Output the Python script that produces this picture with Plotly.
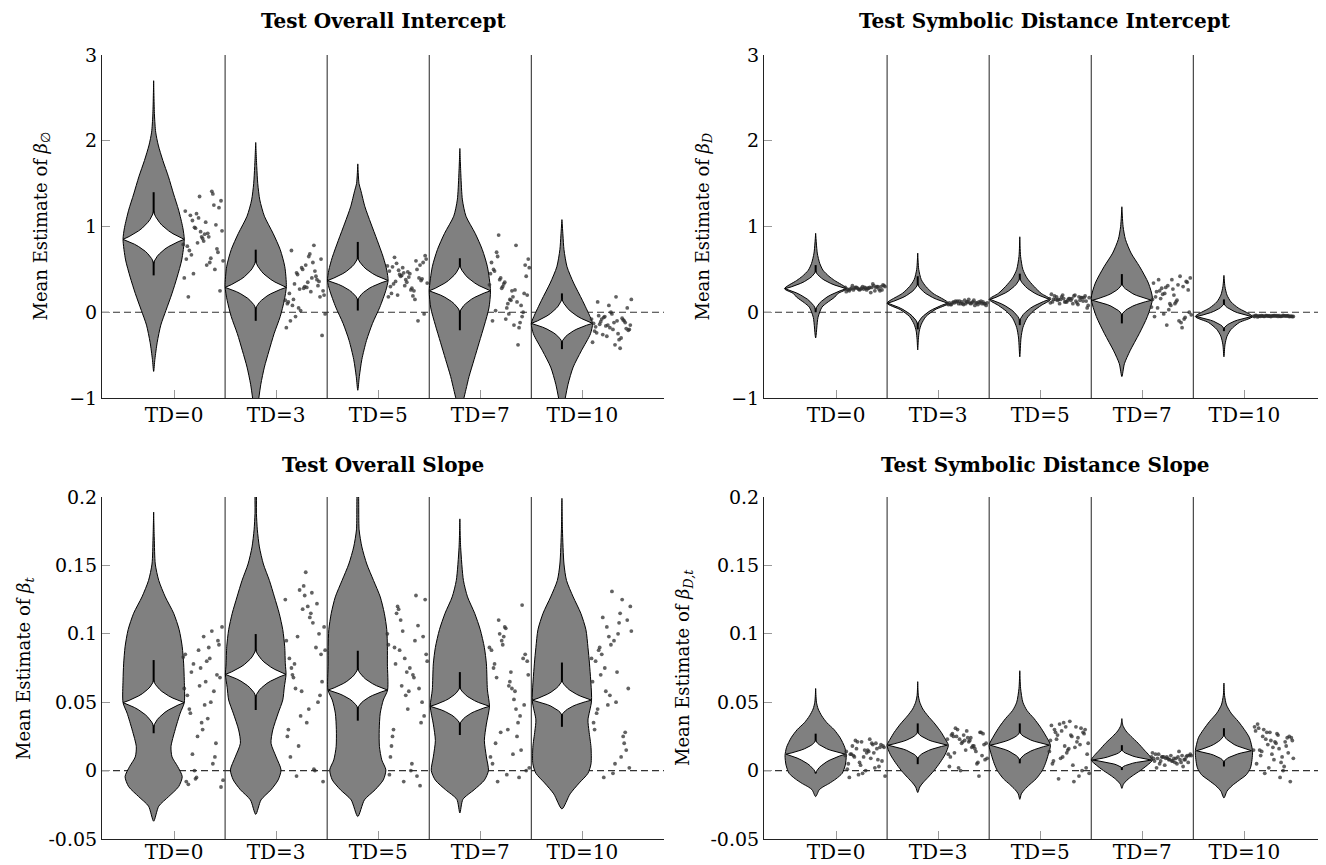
import plotly.graph_objects as go

# ---------------- data ----------------
CATS = ["TD=0", "TD=3", "TD=5", "TD=7", "TD=10"]
TITLES = ["Test Overall Intercept", "Test Symbolic Distance Intercept",
          "Test Overall Slope", "Test Symbolic Distance Slope"]
YTITLES = ["Mean Estimate of <i>β</i><sub>∅</sub>", "Mean Estimate of <i>β<sub>D</sub></i>",
           "Mean Estimate of <i>β<sub>t</sub></i>", "Mean Estimate of <i>β<sub>D,t</sub></i>"]
TOP_TICKS = [-1, 0, 1, 2, 3]
TOP_TICKTEXT = ["−1", "0", "1", "2", "3"]
BOT_TICKS = [-0.05, 0, 0.05, 0.1, 0.15, 0.2]
BOT_TICKTEXT = ["-0.05", "0", "0.05", "0.1", "0.15", "0.2"]

# normalised shape of the white inner densities (fraction of distance to tip -> fraction of width)
INNER_T = [0, .1, .2, .3, .4, .5, .6, .7, .8, .9, 1]
INNER_F = [1, .80, .63, .49, .37, .27, .19, .12, .065, .025, 0]

# jitter offsets of the dots (category units)
JIT = [0.31, 0.12, 0.44, 0.27, 0.19, 0.38, 0.47, 0.15, 0.22, 0.35, 0.41, 0.10, 0.29, 0.46, 0.17,
       0.33, 0.24, 0.40, 0.13, 0.37, 0.21, 0.45, 0.28, 0.11, 0.36, 0.18, 0.43, 0.26, 0.14, 0.39,
       0.23, 0.32, 0.16, 0.42, 0.20, 0.34, 0.25, 0.48, 0.30, 0.09]

# ---- Top-left: Test Overall Intercept ----
TL_OUT_Y = [
    [2.70, 2.30, 2.10, 1.95, 1.77, 1.58, 1.38, 1.19, 0.99, 0.85, 0.61, 0.41, 0.22, 0.02, -0.15, -0.35, -0.55, -0.69],
    [1.98, 1.70, 1.50, 1.31, 1.12, 0.92, 0.73, 0.53, 0.30, 0.14, -0.05, -0.25, -0.45, -0.64, -0.84, -1.05],
    [1.73, 1.50, 1.42, 1.23, 1.04, 0.84, 0.64, 0.49, 0.37, 0.255, 0.06, -0.13, -0.33, -0.55, -0.75, -0.91],
    [1.91, 1.60, 1.31, 1.12, 0.92, 0.73, 0.53, 0.25, 0.05, -0.15, -0.35, -0.55, -0.75, -0.90, -1.05],
    [1.08, 0.90, 0.73, 0.53, 0.34, 0.14, -0.05, -0.13, -0.25, -0.45, -0.64, -0.84, -1.05],
]
TL_OUT_W = [
    [0, 0.008, 0.02, 0.045, 0.09, 0.145, 0.195, 0.245, 0.285, 0.30, 0.275, 0.23, 0.18, 0.12, 0.07, 0.035, 0.012, 0],
    [0, 0.01, 0.02, 0.04, 0.085, 0.17, 0.24, 0.285, 0.30, 0.28, 0.24, 0.18, 0.13, 0.085, 0.05, 0.025],
    [0, 0.012, 0.03, 0.07, 0.127, 0.19, 0.25, 0.284, 0.297, 0.275, 0.216, 0.144, 0.085, 0.04, 0.015, 0],
    [0, 0.01, 0.025, 0.06, 0.15, 0.22, 0.27, 0.30, 0.285, 0.24, 0.19, 0.14, 0.09, 0.06, 0.03],
    [0, 0.01, 0.02, 0.05, 0.115, 0.20, 0.275, 0.30, 0.28, 0.19, 0.11, 0.06, 0.025],
]
TL_INNER = [(0.85, 0.30, 1.18, 0.57), (0.29, 0.30, 0.60, 0.04), (0.37, 0.297, 0.64, 0.14),
            (0.25, 0.30, 0.55, 0.00), (-0.13, 0.30, 0.16, -0.35)]
TL_WHISK = [(0.43, 1.40), (-0.10, 0.73), (0.02, 0.82), (-0.21, 0.63), (-0.43, 0.22)]
TL_PTS = [
    [1.05, 0.62, 1.22, 0.88, 0.45, 1.38, 0.95, 0.72, 1.15, 0.58, 1.02, 0.40, 0.83, 1.30, 0.67, 0.92, 1.10, 0.50, 0.77, 1.41,
     0.98, 0.25, 0.86, 1.18, 0.63, 1.07, 0.70, 0.94, 0.18, 1.25, 0.81, 0.55, 1.13, 0.74, 0.99, 0.88, 1.35, 0.60, 0.91, 0.79],
    [0.35, 0.12, 0.62, 0.28, -0.05, 0.48, 0.20, 0.72, 0.05, 0.40, 0.31, -0.18, 0.55, 0.25, 0.15, 0.68, 0.02, 0.38, 0.22, 0.78,
     0.44, -0.27, 0.30, 0.10, 0.58, 0.33, 0.18, 0.50, -0.10, 0.42, 0.27, 0.65, 0.08, 0.36, 0.46, 0.24, 0.52, -0.02, 0.29, 0.14],
    [0.45, 0.30, 0.58, 0.38, 0.20, 0.50, 0.62, 0.33, 0.42, 0.25, 0.55, 0.18, 0.47, 0.66, 0.36, 0.28, 0.52, 0.40, 0.22, 0.60,
     0.44, -0.02, 0.35, 0.48, 0.15, 0.57, 0.39, 0.31, 0.53, -0.10, 0.43, 0.26, 0.64, 0.37, 0.49, 0.19, 0.46, 0.34, 0.41, 0.54],
    [0.25, -0.10, 0.55, 0.10, 0.38, -0.18, 0.62, 0.02, 0.30, 0.78, -0.05, 0.45, 0.15, 0.20, 0.65, -0.15, 0.35, 0.08, 0.50, -0.38,
     0.28, 0.42, -0.02, 0.58, 0.12, 0.90, 0.22, 0.05, 0.48, -0.12, 0.33, 0.18, 0.70, 0.00, 0.40, 0.26, -0.08, 0.52, 0.14, 0.32],
    [-0.12, -0.22, 0.05, -0.18, -0.08, -0.30, -0.15, 0.12, -0.05, -0.25, -0.10, -0.35, -0.02, -0.20, -0.14, 0.18, -0.28, -0.09,
     -0.17, -0.42, -0.06, -0.21, 0.00, -0.13, -0.32, -0.11, -0.19, 0.08, -0.24, -0.07, -0.16, -0.38, -0.04, -0.12, -0.26, -0.10,
     -0.15, 0.15, -0.20, -0.08],
]

# ---- Top-right: Test Symbolic Distance Intercept ----
TR_OUT_Y = [
    [0.92, 0.69, 0.57, 0.49, 0.42, 0.37, 0.275, 0.22, 0.176, 0.11, 0.06, -0.06, -0.30],
    [0.69, 0.50, 0.38, 0.30, 0.22, 0.106, 0.03, -0.05, -0.14, -0.22, -0.32, -0.44],
    [0.88, 0.65, 0.50, 0.40, 0.30, 0.22, 0.15, 0.08, 0.01, -0.07, -0.18, -0.30, -0.52],
    [1.23, 1.00, 0.85, 0.69, 0.53, 0.34, 0.16, -0.05, -0.25, -0.45, -0.60, -0.75],
    [0.43, 0.30, 0.20, 0.12, 0.05, -0.05, -0.12, -0.20, -0.28, -0.38, -0.52],
]
TR_OUT_W = [
    [0, 0.016, 0.04, 0.072, 0.13, 0.186, 0.305, 0.22, 0.186, 0.11, 0.062, 0.023, 0],
    [0, 0.01, 0.035, 0.08, 0.15, 0.30, 0.17, 0.08, 0.035, 0.015, 0.006, 0],
    [0, 0.008, 0.03, 0.07, 0.14, 0.21, 0.30, 0.21, 0.13, 0.07, 0.03, 0.012, 0],
    [0, 0.012, 0.035, 0.09, 0.175, 0.26, 0.30, 0.25, 0.17, 0.08, 0.025, 0],
    [0, 0.01, 0.03, 0.07, 0.14, 0.28, 0.15, 0.07, 0.03, 0.01, 0],
]
TR_INNER = [(0.275, 0.30, 0.48, 0.03), (0.106, 0.294, 0.33, -0.14), (0.15, 0.29, 0.40, -0.10),
            (0.14, 0.29, 0.33, -0.03), (-0.05, 0.27, 0.10, -0.19)]
TR_WHISK = [(0.0, 0.55), (-0.20, 0.42), (-0.15, 0.45), (-0.13, 0.445), (-0.22, 0.15)]
TR_PTS = [
    [0.28, 0.26, 0.30, 0.27, 0.29, 0.25, 0.31, 0.28, 0.27, 0.29, 0.30, 0.24, 0.28, 0.32, 0.26, 0.29, 0.27, 0.30, 0.25, 0.31,
     0.28, 0.26, 0.29, 0.27, 0.33, 0.28, 0.25, 0.30, 0.27, 0.29, 0.26, 0.28, 0.31, 0.27, 0.29, 0.23, 0.28, 0.30, 0.26, 0.29],
    [0.11, 0.09, 0.12, 0.10, 0.13, 0.11, 0.08, 0.12, 0.10, 0.14, 0.11, 0.09, 0.12, 0.10, 0.13, 0.11, 0.10, 0.12, 0.09, 0.11,
     0.13, 0.10, 0.12, 0.11, 0.08, 0.12, 0.10, 0.14, 0.11, 0.09, 0.12, 0.10, 0.11, 0.13, 0.10, 0.12, 0.09, 0.11, 0.15, 0.10],
    [0.16, 0.12, 0.19, 0.14, 0.10, 0.18, 0.08, 0.15, 0.20, 0.13, 0.17, 0.11, 0.16, 0.05, 0.14, 0.19, 0.12, 0.17, 0.15, 0.09,
     0.18, 0.13, 0.16, 0.21, 0.11, 0.15, 0.17, 0.12, 0.19, 0.14, 0.16, 0.10, 0.18, 0.13, 0.15, 0.20, 0.12, 0.17, 0.14, 0.16],
    [0.20, -0.05, 0.35, 0.10, 0.28, -0.12, 0.40, 0.05, 0.22, 0.32, -0.08, 0.15, 0.38, 0.00, 0.25, 0.12, -0.15, 0.30, 0.18, 0.42,
     -0.02, 0.26, 0.08, 0.34, -0.10, 0.16, 0.36, 0.03, 0.24, -0.18, 0.29, 0.10, 0.38, -0.06, 0.21, 0.14, 0.31, -0.03, 0.27, 0.06],
    [-0.045, -0.04, -0.05, -0.042, -0.048, -0.038, -0.052, -0.044, -0.04, -0.047, -0.043, -0.05, -0.041, -0.046, -0.039,
     -0.049, -0.044, -0.042, -0.055, -0.045, -0.04, -0.047, -0.043, -0.036, -0.048, -0.044, -0.041, -0.05, -0.046, -0.042,
     -0.045, -0.039, -0.048, -0.043, -0.047, -0.041, -0.044, -0.049, -0.04, -0.046],
]

# ---- Bottom-left: Test Overall Slope ----
BL_OUT_Y = [
    [0.189, 0.170, 0.151, 0.139, 0.127, 0.115, 0.103, 0.0905, 0.078, 0.066, 0.0497, 0.042, 0.0297, 0.0175, 0.010, 0.003,
     -0.0044, -0.0117, -0.019, -0.026, -0.037],
    [0.205, 0.188, 0.176, 0.1635, 0.151, 0.139, 0.127, 0.115, 0.103, 0.0905, 0.078, 0.0703, 0.061, 0.0516, 0.042, 0.0297,
     0.020, 0.010, 0.0005, -0.0068, -0.014, -0.0214, -0.032],
    [0.205, 0.176, 0.1635, 0.151, 0.139, 0.127, 0.115, 0.103, 0.0905, 0.078, 0.0589, 0.0516, 0.042, 0.030, 0.0175, 0.0078,
     0.0005, -0.0068, -0.014, -0.0214, -0.0336],
    [0.184, 0.163, 0.139, 0.127, 0.115, 0.103, 0.09, 0.078, 0.059, 0.047, 0.034, 0.022, 0.01, 0.0, -0.007, -0.014, -0.021, -0.031],
    [0.199, 0.176, 0.151, 0.139, 0.127, 0.115, 0.103, 0.09, 0.078, 0.051, 0.037, 0.029, 0.017, 0.005, -0.002, -0.009, -0.017, -0.028],
]
BL_OUT_W = [
    [0, 0.006, 0.016, 0.05, 0.114, 0.196, 0.25, 0.28, 0.294, 0.30, 0.30, 0.26, 0.21, 0.17, 0.18, 0.235, 0.28, 0.245, 0.147, 0.05, 0],
    [0.003, 0.007, 0.016, 0.036, 0.075, 0.134, 0.183, 0.23, 0.265, 0.284, 0.29, 0.297, 0.28, 0.265, 0.22, 0.167, 0.15, 0.2,
     0.248, 0.22, 0.15, 0.052, 0],
    [0.003, 0.013, 0.04, 0.088, 0.154, 0.22, 0.26, 0.284, 0.29, 0.29, 0.292, 0.25, 0.22, 0.21, 0.212, 0.235, 0.275, 0.25,
     0.17, 0.065, 0],
    [0, 0.008, 0.035, 0.075, 0.145, 0.20, 0.24, 0.26, 0.27, 0.29, 0.26, 0.24, 0.26, 0.28, 0.24, 0.14, 0.03, 0],
    [0, 0.005, 0.02, 0.045, 0.11, 0.185, 0.235, 0.255, 0.27, 0.29, 0.255, 0.265, 0.285, 0.285, 0.255, 0.17, 0.08, 0],
]
BL_INNER = [(0.0497, 0.30, 0.066, 0.032), (0.0703, 0.297, 0.0886, 0.054), (0.0589, 0.29, 0.0747, 0.0455),
            (0.047, 0.29, 0.061, 0.034), (0.0515, 0.29, 0.066, 0.0405)]
BL_WHISK = [(0.0273, 0.0808), (0.0443, 0.0998), (0.0365, 0.0876), (0.026, 0.072), (0.032, 0.079)]
BL_PTS = [
    [0.065, -0.008, 0.092, 0.035, 0.078, 0.005, 0.105, 0.045, -0.005, 0.082, 0.020, 0.060, 0.098, -0.012, 0.072, 0.038,
     0.088, 0.010, 0.055, 0.102, -0.006, 0.068, 0.030, 0.085, 0.050, 0.012, 0.095, 0.075, -0.010, 0.058, 0.025, 0.080,
     0.042, 0.070, 0.000, 0.090, 0.062, -0.007, 0.048, 0.083],
    [0.120, 0.030, 0.085, 0.135, 0.060, 0.000, 0.105, 0.075, 0.018, 0.130, 0.050, 0.095, 0.145, -0.008, 0.068, 0.112,
     0.040, 0.122, 0.082, 0.001, 0.098, 0.065, 0.128, 0.025, 0.108, 0.078, 0.055, 0.118, 0.010, 0.090, 0.132, 0.045,
     0.070, 0.100, -0.004, 0.115, 0.058, 0.088, 0.035, 0.125],
    [0.075, 0.010, 0.098, 0.055, 0.120, -0.004, 0.085, 0.030, 0.110, 0.068, -0.011, 0.092, 0.045, 0.125, 0.078, 0.005,
     0.102, 0.060, 0.018, 0.128, 0.088, 0.040, 0.072, -0.003, 0.095, 0.115, 0.050, 0.082, 0.025, 0.106, 0.062, 0.000,
     0.090, 0.035, 0.118, 0.070, -0.008, 0.080, 0.058, 0.100],
    [0.060, 0.005, 0.085, 0.030, 0.100, -0.005, 0.070, 0.020, 0.092, 0.045, 0.121, 0.010, 0.065, 0.080, -0.008, 0.052,
     0.105, 0.015, 0.075, 0.035, 0.095, 0.000, 0.062, 0.088, 0.025, 0.110, 0.048, -0.003, 0.078, 0.040, 0.098, 0.012,
     0.068, 0.082, 0.028, 0.058, 0.104, 0.002, 0.072, 0.090],
    [0.095, 0.030, 0.110, 0.055, 0.085, 0.010, 0.120, 0.045, 0.075, 0.100, 0.020, 0.065, 0.131, 0.002, 0.090, 0.050,
     0.105, 0.025, 0.080, 0.115, -0.005, 0.060, 0.092, 0.035, 0.108, 0.070, 0.015, 0.098, 0.042, 0.125, 0.058, 0.005,
     0.088, 0.028, 0.112, 0.072, 0.048, 0.102, -0.002, 0.082],
]

# ---- Bottom-right: Test Symbolic Distance Slope ----
BR_OUT_Y = [
    [0.06, 0.05, 0.045, 0.04, 0.035, 0.03, 0.024, 0.017, 0.011, 0.004, -0.002, -0.006, -0.0095, -0.012, -0.014, -0.019],
    [0.065, 0.055, 0.05, 0.045, 0.04, 0.034, 0.028, 0.023, 0.0186, 0.012, 0.006, 0.0, -0.005, -0.009, -0.012, -0.016],
    [0.073, 0.06, 0.05, 0.044, 0.038, 0.032, 0.026, 0.0186, 0.012, 0.005, 0.0, -0.006, -0.01, -0.014, -0.017, -0.021],
    [0.038, 0.033, 0.029, 0.025, 0.02, 0.015, 0.011, 0.0077, 0.004, 0.0, -0.004, -0.007, -0.01, -0.013],
    [0.064, 0.055, 0.048, 0.042, 0.036, 0.03, 0.024, 0.0145, 0.008, 0.002, -0.003, -0.007, -0.011, -0.015, -0.02],
]
BR_OUT_W = [
    [0, 0.008, 0.025, 0.06, 0.11, 0.18, 0.24, 0.285, 0.30, 0.29, 0.26, 0.20, 0.13, 0.07, 0.035, 0],
    [0, 0.006, 0.02, 0.05, 0.10, 0.17, 0.23, 0.27, 0.30, 0.27, 0.22, 0.16, 0.10, 0.05, 0.02, 0],
    [0, 0.008, 0.03, 0.07, 0.14, 0.20, 0.25, 0.30, 0.28, 0.25, 0.22, 0.16, 0.10, 0.045, 0.015, 0],
    [0, 0.01, 0.04, 0.09, 0.16, 0.22, 0.27, 0.30, 0.25, 0.18, 0.10, 0.05, 0.015, 0],
    [0, 0.006, 0.025, 0.07, 0.14, 0.20, 0.25, 0.28, 0.275, 0.26, 0.22, 0.15, 0.08, 0.03, 0],
]
BR_INNER = [(0.012, 0.29, 0.022, -0.002), (0.0186, 0.29, 0.028, 0.009), (0.0186, 0.29, 0.028, 0.0077),
            (0.0077, 0.29, 0.015, 0.002), (0.0145, 0.27, 0.026, 0.0065)]
BR_WHISK = [(-0.002, 0.027), (0.0047, 0.0345), (0.0053, 0.0345), (0.0004, 0.0186), (0.003, 0.031)]
BR_PTS = [
    [0.015, 0.005, 0.019, 0.010, 0.022, 0.002, 0.017, 0.012, -0.003, 0.020, 0.008, 0.014, 0.000, 0.018, 0.011, 0.023,
     0.004, 0.016, -0.005, 0.013, 0.021, 0.007, 0.015, 0.001, 0.019, 0.010, 0.017, -0.002, 0.012, 0.020, 0.006, 0.014,
     0.018, 0.003, 0.016, 0.009, 0.021, -0.004, 0.013, 0.011],
    [0.022, 0.010, 0.027, 0.015, 0.030, 0.005, 0.020, 0.025, 0.000, 0.018, 0.028, 0.012, 0.024, 0.008, 0.031, 0.017,
     0.021, -0.004, 0.026, 0.014, 0.023, 0.019, 0.029, 0.003, 0.016, 0.025, 0.011, 0.022, 0.027, 0.006, 0.020, 0.024,
     0.013, 0.028, 0.002, 0.018, 0.026, 0.009, 0.021, 0.023],
    [0.025, 0.005, 0.030, 0.015, 0.034, -0.004, 0.020, 0.028, 0.010, 0.032, 0.000, 0.022, 0.036, 0.012, 0.026, -0.008,
     0.018, 0.031, 0.007, 0.024, 0.029, 0.002, 0.016, 0.033, 0.021, -0.006, 0.027, 0.013, 0.030, 0.019, 0.035, 0.004,
     0.023, 0.028, 0.009, 0.017, 0.032, -0.002, 0.026, 0.014],
    [0.009, 0.007, 0.011, 0.008, 0.010, 0.006, 0.012, 0.009, 0.004, 0.010, 0.008, 0.013, 0.007, 0.011, 0.005, 0.009,
     0.010, 0.003, 0.012, 0.008, 0.010, 0.006, 0.011, 0.009, 0.014, 0.007, 0.010, 0.008, 0.002, 0.011, 0.009, 0.006,
     0.012, 0.008, 0.010, 0.005, 0.009, 0.011, 0.007, 0.010],
    [0.020, 0.005, 0.025, 0.012, 0.030, 0.000, 0.022, 0.015, 0.028, -0.005, 0.018, 0.032, 0.008, 0.024, 0.014, 0.026,
     0.002, 0.021, 0.034, 0.010, 0.023, -0.008, 0.017, 0.029, 0.006, 0.025, 0.013, 0.022, 0.031, 0.003, 0.019, 0.027,
     0.011, 0.024, -0.002, 0.016, 0.028, 0.009, 0.021, 0.015],
]

# ---------------- layout constants ----------------
# the page body has an 8 px margin, so the figure is made 8 px smaller and all page positions are shifted by it
PAGE_W, PAGE_H, BODY = 1326, 865, 8
W, H = PAGE_W - BODY, PAGE_H - BODY
FONT = "DejaVu Serif"
VIOLIN_OFFSET = -0.2
X_RANGE = [-0.706, 4.80]


def px(x):
    return (x - BODY) / W


def py(y):
    return 1 - (y - BODY) / H


X_DOM = [[px(102), px(664)], [px(764), 1.0]]
Y_DOM = [[py(398), py(55)], [py(839), py(497)]]

panels = [
    dict(ax="", col=0, row=0, oy=TL_OUT_Y, ow=TL_OUT_W, inner=TL_INNER, wh=TL_WHISK, pts=TL_PTS,
         rng=[-1, 3], tv=TOP_TICKS, tt=TOP_TICKTEXT, ytx=42),
    dict(ax="2", col=1, row=0, oy=TR_OUT_Y, ow=TR_OUT_W, inner=TR_INNER, wh=TR_WHISK, pts=TR_PTS,
         rng=[-1, 3], tv=TOP_TICKS, tt=TOP_TICKTEXT, ytx=704),
    dict(ax="3", col=0, row=1, oy=BL_OUT_Y, ow=BL_OUT_W, inner=BL_INNER, wh=BL_WHISK, pts=BL_PTS,
         rng=[-0.05, 0.2], tv=BOT_TICKS, tt=BOT_TICKTEXT, ytx=25),
    dict(ax="4", col=1, row=1, oy=BR_OUT_Y, ow=BR_OUT_W, inner=BR_INNER, wh=BR_WHISK, pts=BR_PTS,
         rng=[-0.05, 0.2], tv=BOT_TICKS, tt=BOT_TICKTEXT, ytx=684),
]

fig = go.Figure()
shapes, annotations = [], []
layout_axes = {}

for k, p in enumerate(panels):
    xa, ya = "x" + p["ax"], "y" + p["ax"]
    for i in range(len(CATS)):
        c = i + VIOLIN_OFFSET
        oy, ow = p["oy"][i], p["ow"][i]
        xs = [c + w for w in reversed(ow)] + [c - w for w in ow]
        ys = list(reversed(oy)) + list(oy)
        fig.add_trace(go.Scatter(x=xs, y=ys, mode="lines", fill="toself", fillcolor="#808080",
                                 line=dict(color="black", width=1, shape="spline", smoothing=0.7),
                                 xaxis=xa, yaxis=ya, hoverinfo="skip", showlegend=False))
        lo, hi = p["wh"][i]
        fig.add_trace(go.Scatter(x=[c, c], y=[lo, hi], mode="lines", line=dict(color="black", width=2),
                                 xaxis=xa, yaxis=ya, hoverinfo="skip", showlegend=False))
        m, wd, top, bot = p["inner"][i]
        up = [(c + wd * f, m + t * (top - m)) for t, f in zip(INNER_T, INNER_F)]
        ul = [(c - wd * f, m + t * (top - m)) for t, f in zip(INNER_T, INNER_F)][::-1]
        dl = [(c - wd * f, m - t * (m - bot)) for t, f in zip(INNER_T, INNER_F)]
        dr = [(c + wd * f, m - t * (m - bot)) for t, f in zip(INNER_T, INNER_F)][::-1]
        path = up + ul + dl + dr
        fig.add_trace(go.Scatter(x=[q[0] for q in path], y=[q[1] for q in path], mode="lines",
                                 fill="toself", fillcolor="white",
                                 line=dict(color="black", width=1),
                                 xaxis=xa, yaxis=ya, hoverinfo="skip", showlegend=False))
        yv = p["pts"][i]
        fig.add_trace(go.Scatter(x=[i + j for j in JIT[:len(yv)]], y=yv, mode="markers",
                                 marker=dict(size=3.8, color="rgba(45,45,45,0.75)"),
                                 xaxis=xa, yaxis=ya, hoverinfo="skip", showlegend=False))

    # category separators and zero line
    for i in range(len(CATS) - 1):
        shapes.append(dict(type="line", xref=xa, yref=ya + " domain", x0=i + 0.5, x1=i + 0.5, y0=0, y1=1,
                           line=dict(color="#222", width=1), layer="below"))
    shapes.append(dict(type="line", xref=xa + " domain", yref=ya, x0=0, x1=1, y0=0, y1=0,
                       line=dict(color="#333", width=1.2, dash="7px,4px"), layer="below"))

    xd, yd = X_DOM[p["col"]], Y_DOM[p["row"]]
    axis_common = dict(showline=True, linecolor="#222", linewidth=1, ticks="inside", ticklen=8,
                       tickcolor="#999", tickwidth=1, showgrid=False, zeroline=False, automargin=False)
    layout_axes["xaxis" + p["ax"]] = dict(domain=xd, range=X_RANGE, tickvals=list(range(len(CATS))),
                                          ticktext=CATS, anchor=ya,
                                          ticklabelstandoff=(-5 if p["row"] == 1 else -1),
                                          tickfont=dict(family=FONT, size=20, color="black"), **axis_common)
    layout_axes["yaxis" + p["ax"]] = dict(domain=yd, range=p["rng"], tickvals=p["tv"], ticktext=p["tt"],
                                          anchor=xa, tickfont=dict(family=FONT, size=19, color="black"),
                                          **axis_common)

    # titles
    ty = py(21) if p["row"] == 0 else py(465)
    annotations.append(dict(text="<b>" + TITLES[k] + "</b>", xref="paper", yref="paper",
                            x=(xd[0] + xd[1]) / 2, y=ty, xanchor="center", yanchor="middle",
                            showarrow=False, font=dict(family=FONT, size=20, color="black")))
    annotations.append(dict(text=YTITLES[k], xref="paper", yref="paper", x=px(p["ytx"]),
                            y=(yd[0] + yd[1]) / 2, xanchor="center", yanchor="middle", textangle=-90,
                            showarrow=False, font=dict(family=FONT, size=18, color="black")))

fig.update_layout(template="none", width=W, height=H, autosize=False, margin=dict(l=0, r=0, t=0, b=0, pad=0),
                  paper_bgcolor="white", plot_bgcolor="white", showlegend=False,
                  shapes=shapes, annotations=annotations, **layout_axes)

fig.write_html("out.html")
